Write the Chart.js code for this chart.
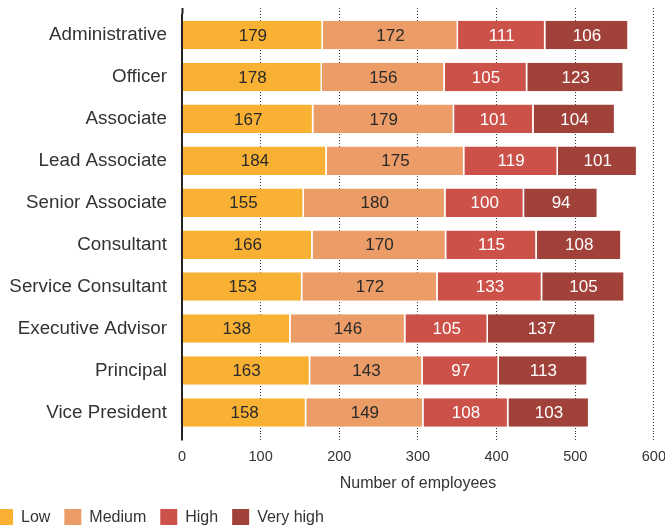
<!DOCTYPE html>
<html>
<head>
<meta charset="utf-8">
<script src="https://cdn.jsdelivr.net/npm/chart.js@4"></script>
<style>
  html, body { margin: 0; padding: 0; background: #fff; overflow: hidden; }
  body { width: 665px; height: 525px; position: relative; }
  #wrap { position: absolute; left: -18px; top: 0; width: 692px; height: 536px; }
</style>
</head>
<body>
<div id="wrap"><canvas id="chart"></canvas></div>
<script>
// staff counts per level, by job title
const roles = [
  "Administrative", "Officer", "Associate", "Lead Associate", "Senior Associate",
  "Consultant", "Service Consultant", "Executive Advisor", "Principal", "Vice President"
];
const low      = [179, 178, 167, 184, 155, 166, 153, 138, 163, 158];
const medium   = [172, 156, 179, 175, 180, 170, 172, 146, 143, 149];
const high     = [111, 105, 101, 119, 100, 115, 133, 105, 97, 108];
const veryHigh = [106, 123, 104, 101, 94, 108, 105, 137, 113, 103];

const seriesNames = ["Low", "Medium", "High", "Very high"];
const xTicks = [0, 100, 200, 300, 400, 500, 600];

const COLORS = ["#f9b134", "#eb9c67", "#cb5149", "#a1423a"];
const LABEL_COLORS = ["#2a2a2a", "#2a2a2a", "#fff", "#fff"];
const FONT = "'Liberation Sans', Arial, Helvetica, sans-serif";

Chart.defaults.font.family = FONT;
Chart.defaults.color = "#333";

const isZero = (c) => c.tick && c.tick.value === 0;

// numbers centred inside each segment
const segmentLabels = {
  id: "segmentLabels",
  afterDatasetsDraw(chart) {
    const ctx = chart.ctx;
    ctx.save();
    ctx.font = `17px ${FONT}`;
    ctx.textAlign = "center";
    ctx.textBaseline = "middle";
    chart.data.datasets.forEach((ds, di) => {
      const meta = chart.getDatasetMeta(di);
      ctx.fillStyle = LABEL_COLORS[di];
      meta.data.forEach((bar, i) => {
        const cx = (bar.x + bar.base) / 2;
        ctx.fillText(String(ds.data[i]), cx, bar.y + 1);
      });
    });
    ctx.restore();
  }
};

const datasets = [low, medium, high, veryHigh].map((data, i) => ({
  label: seriesNames[i],
  data,
  backgroundColor: COLORS[i],
  borderColor: "#fff",
  borderWidth: { top: 0, right: 1.5, bottom: 0, left: 0 },
  borderSkipped: false,
  barPercentage: 0.68,
  categoryPercentage: 1
}));

const gridDash = (c) => (isZero(c) ? [] : [1, 2]);
const gridColor = (c) => (isZero(c) ? "#222" : "#333");
const gridWidth = (c) => (isZero(c) ? 2 : 1);

new Chart(document.getElementById("chart"), {
  type: "bar",
  data: { labels: roles, datasets },
  options: {
    indexAxis: "y",
    responsive: true,
    maintainAspectRatio: false,
    animation: false,
    layout: { padding: { top: 8, left: 0, right: 0, bottom: 0 } },
    scales: {
      x: {
        stacked: true,
        min: 0,
        max: 600,
        afterBuildTicks: (s) => { s.ticks = xTicks.map((v) => ({ value: v })); },
        ticks: { font: { size: 14.5 }, color: "#333", padding: 8 },
        grid: {
          color: gridColor,
          lineWidth: gridWidth,
          drawTicks: true,
          tickLength: 7,
          tickColor: gridColor,
          tickWidth: gridWidth,
          tickBorderDash: gridDash
        },
        border: { display: false, dash: gridDash },
        title: {
          display: true,
          text: "Number of employees",
          font: { size: 16 },
          color: "#333",
          padding: { top: 0, bottom: 2 }
        }
      },
      x2: {
        type: "linear",
        position: "top",
        min: 0,
        max: 600,
        afterBuildTicks: (s) => { s.ticks = xTicks.map((v) => ({ value: v })); },
        ticks: { display: false },
        grid: {
          drawOnChartArea: false,
          drawTicks: true,
          tickLength: 6,
          tickColor: gridColor,
          tickWidth: gridWidth,
          tickBorderDash: gridDash
        },
        border: { display: false }
      },
      y: {
        stacked: true,
        afterFit: (s) => {
          s.width = 200;
          s.paddingTop = 0;
          s.paddingBottom = 0;
        },
        ticks: { font: { size: 18.8 }, color: "#333", padding: 15 },
        grid: { display: false, drawTicks: false },
        border: { display: false }
      }
    },
    plugins: {
      tooltip: { enabled: false },
      legend: {
        position: "bottom",
        align: "start",
        labels: {
          boxWidth: 17,
          boxHeight: 17,
          padding: 14,
          color: "#333",
          font: { size: 16 },
          generateLabels: (chart) =>
            Chart.defaults.plugins.legend.labels.generateLabels(chart).map((l) => ({ ...l, lineWidth: 0, strokeStyle: "transparent" }))
        }
      }
    }
  },
  plugins: [segmentLabels]
});
</script>
</body>
</html>
